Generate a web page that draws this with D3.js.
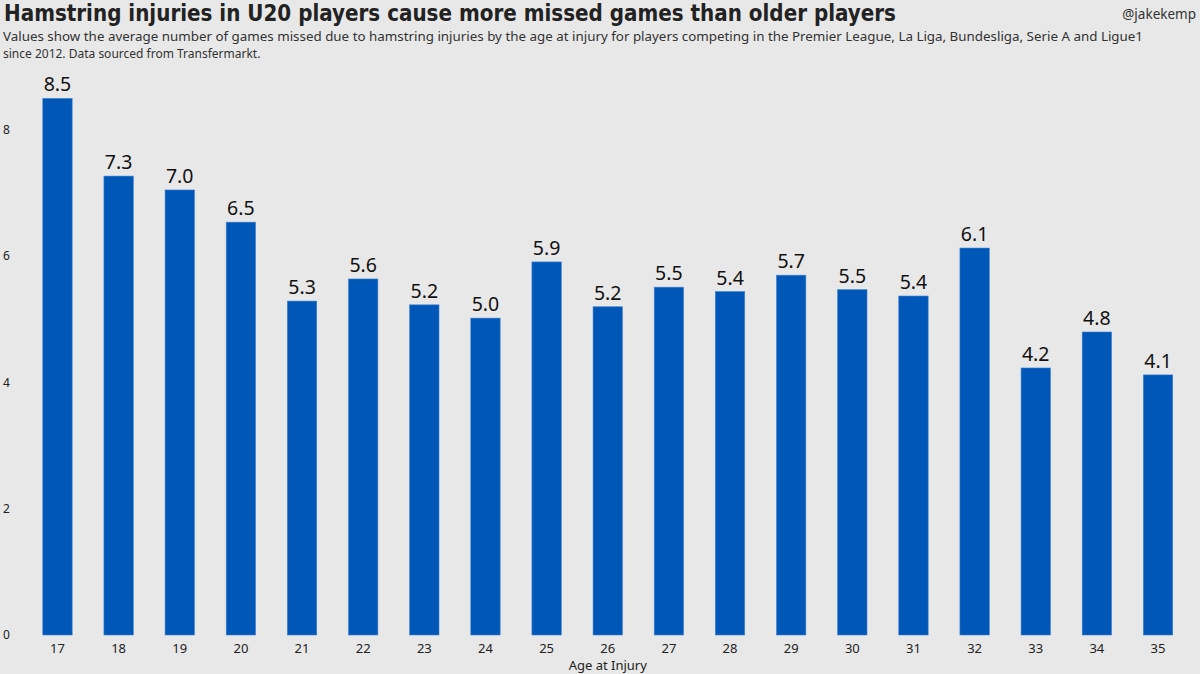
<!DOCTYPE html>
<html>
<head>
<meta charset="utf-8">
<script src="https://cdn.jsdelivr.net/npm/d3@7"></script>
<style>
  body { margin: 0; background: #e8e8e8; }
  svg { display: block; }
  text { font-family: "Noto Sans", "Open Sans", sans-serif; }
</style>
</head>
<body>
<div id="chart"></div>
<script>
const ages = ["17", "18", "19", "20", "21", "22", "23", "24", "25", "26", "27", "28", "29", "30", "31", "32", "33", "34", "35"]
const gamesMissed = [8.5, 7.27, 7.05, 6.54, 5.29, 5.64, 5.23, 5.02, 5.91, 5.2, 5.51, 5.44, 5.7, 5.47, 5.37, 6.13, 4.23, 4.8, 4.12]
const yTicks = [0, 2, 4, 6, 8]

const width = 1200
const height = 674

const svg = d3.select("#chart").append("svg")
    .attr("width", width)
    .attr("height", height)

svg.append("rect")
    .attr("width", width)
    .attr("height", height)
    .attr("fill", "#e8e8e8")

const x = d3.scaleBand()
    .domain(ages)
    .range([26.9, 1188.6])
    .paddingInner(0.52)
    .paddingOuter(0.26)

const y = d3.scaleLinear()
    .domain([0, 8])
    .range([635, 130])

// titles
svg.append("text")
    .attr("x", 4)
    .attr("y", 21)
    .attr("fill", "#222")
    .attr("textLength", 892)
    .attr("lengthAdjust", "spacingAndGlyphs")
    .style("font-family", "'DejaVu Sans Condensed', 'DejaVu Sans', sans-serif")
    .style("font-weight", "bold")
    .style("font-size", "23px")
    .text("Hamstring injuries in U20 players cause more missed games than older players")

svg.append("text")
    .attr("x", 1196)
    .attr("y", 19)
    .attr("text-anchor", "end")
    .attr("fill", "#333")
    .style("font-size", "13.5px")
    .text("@jakekemp")

const subtitle = [
    "Values show the average number of games missed due to hamstring injuries by the age at injury for players competing in the Premier League, La Liga, Bundesliga, Serie A and Ligue1",
    "since 2012. Data sourced from Transfermarkt."
]
svg.append("g").selectAll("text")
    .data(subtitle)
    .enter()
    .append("text")
    .attr("x", 3)
    .attr("y", (d, i) => 41 + i * 16.5)
    .attr("fill", "#333")
    .attr("textLength", (d, i) => i === 0 ? 1140 : null)
    .attr("lengthAdjust", "spacingAndGlyphs")
    .style("font-size", "12px")
    .text(d => d)

// y axis labels
svg.append("g").selectAll("text")
    .data(yTicks)
    .enter()
    .append("text")
    .attr("x", 3)
    .attr("y", d => y(d))
    .attr("dy", "0.35em")
    .attr("fill", "#222")
    .style("font-size", "12px")
    .text(d => d)

// bars
svg.append("g").selectAll("rect")
    .data(gamesMissed)
    .enter()
    .append("rect")
    .attr("x", (d, i) => x(ages[i]))
    .attr("y", d => y(d))
    .attr("width", x.bandwidth())
    .attr("height", d => y(0) - y(d))
    .attr("fill", "#0057b7")
    .attr("stroke", "#3c7fd0")
    .attr("stroke-width", 0.6)

// value labels
svg.append("g").selectAll("text")
    .data(gamesMissed)
    .enter()
    .append("text")
    .attr("x", (d, i) => x(ages[i]) + x.bandwidth() / 2)
    .attr("y", d => y(d) - 7)
    .attr("text-anchor", "middle")
    .attr("fill", "#111")
    .style("font-size", "19.5px")
    .text(d => d3.format(".1f")(d))

// x axis labels
svg.append("g").selectAll("text")
    .data(ages)
    .enter()
    .append("text")
    .attr("x", d => x(d) + x.bandwidth() / 2)
    .attr("y", 653)
    .attr("text-anchor", "middle")
    .attr("fill", "#222")
    .style("font-size", "13px")
    .text(d => d)

svg.append("text")
    .attr("x", (x.range()[0] + x.range()[1]) / 2)
    .attr("y", 670)
    .attr("text-anchor", "middle")
    .attr("fill", "#222")
    .style("font-size", "13px")
    .text("Age at Injury")
</script>
</body>
</html>
